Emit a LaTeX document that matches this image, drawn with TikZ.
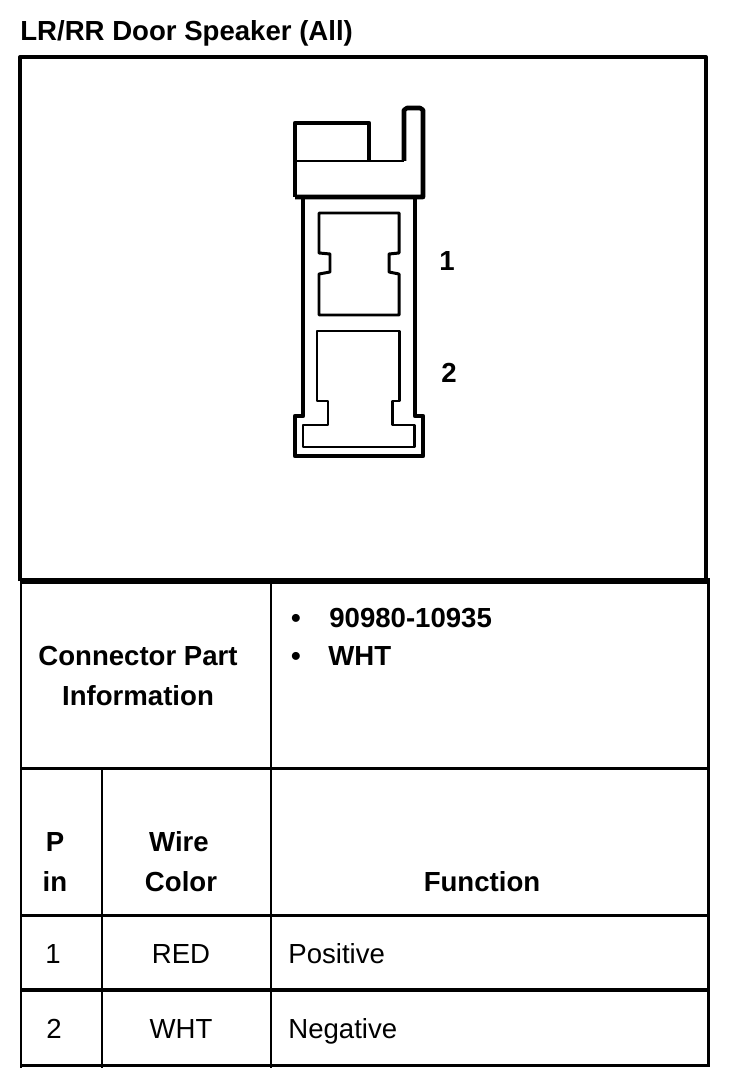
\documentclass[tikz,border=0pt]{standalone}
\usepackage{fontspec}
\setmainfont{Liberation Sans}

\tikzset{
    wide/.style={line width=3.4pt},
    heavy/.style={line width=2.6pt, line join=round},
    medium/.style={line width=2.3pt, line join=round},
    light/.style={line width=1.7pt, line join=round},
    boldtext/.style={inner sep=0pt, anchor=base, font=\fontsize{15.7pt}{18pt}\selectfont\bfseries},
    plaintext/.style={inner sep=0pt, anchor=base, font=\fontsize{15.7pt}{18pt}\selectfont}
}

\begin{document}
\begin{tikzpicture}[x=0.02cm, y=-0.02cm]
\useasboundingbox (0, 0) rectangle (736, 1084);
\fill[white] (0, 0) rectangle (736, 1084);

% outer frame
\draw[medium]
    (20, 581) -- (20, 57) -- (706, 57) -- (706, 581);
\draw[wide]
    (20, 581) -- (710, 581);

% table lines
\draw[light]
    (21, 581) -- (21, 1068);
\draw[light]
    (708, 581) -- (708, 1066);
\draw[light]
    (271, 581) -- (271, 1068);
\draw[light]
    (102, 768) -- (102, 1068);
\draw[light]
    (21, 768) -- (710, 768);
\draw[light]
    (21, 915) -- (710, 915);
\draw[medium]
    (21, 990) -- (710, 990);
\draw[light]
    (21, 1065) -- (710, 1065);

% connector body
\draw[heavy]
    (295, 197) -- (295, 123) -- (369, 123) -- (369, 161);
\draw[heavy]
    (404, 161) -- (404, 110) -- (407, 108) -- (420, 108) -- (423, 110)
    -- (423, 197) -- (295, 197);
\draw[light]
    (295, 161) -- (404, 161);
\draw[heavy]
    (303, 197) -- (303, 416) -- (295, 416) -- (295, 456) -- (423, 456)
    -- (423, 416) -- (415, 416) -- (415, 197);

% cavity 1
\draw[light]
    (319, 213) -- (399, 213) -- (399, 253) -- (389, 254) -- (389, 272)
    -- (399, 274) -- (399, 315) -- (319, 315) -- (319, 274) -- (330, 272)
    -- (330, 254) -- (319, 253) -- cycle;

% cavity 2
\draw[light]
    (317, 331) -- (399, 331) -- (399, 401) -- (392, 401) -- (392, 425)
    -- (414, 425) -- (414, 447) -- (303, 447) -- (303, 425) -- (328, 425)
    -- (328, 401) -- (317, 401) -- cycle;

\node[boldtext, anchor=base west] (title) at (20, 41) {LR/RR Door Speaker (All)};
\node[boldtext] (cavityone) at (447, 271) {1};
\node[boldtext] (cavitytwo) at (449, 382) {2};

\node[boldtext] (partone) at (138, 665) {Connector Part};
\node[boldtext] (parttwo) at (138, 705) {Information};
\node[boldtext] (bulletone) at (296, 627) {•};
\node[boldtext] (bullettwo) at (296, 665) {•};
\node[boldtext, anchor=base west] (partno) at (329, 627) {90980-10935};
\node[boldtext, anchor=base west] (partcolor) at (328, 665) {WHT};

\node[boldtext] (pinone) at (55, 851) {P};
\node[boldtext] (pintwo) at (55, 891) {in};
\node[boldtext] (wireone) at (179, 851) {Wire};
\node[boldtext] (wiretwo) at (181, 891) {Color};
\node[boldtext] (function) at (482, 891) {Function};

\node[plaintext] (rowonepin) at (53, 963) {1};
\node[plaintext] (rowonecolor) at (181, 963) {RED};
\node[plaintext, anchor=base west] (rowonefunc) at (288, 963) {Positive};
\node[plaintext] (rowtwopin) at (54, 1038) {2};
\node[plaintext] (rowtwocolor) at (181, 1038) {WHT};
\node[plaintext, anchor=base west] (rowtwofunc) at (288, 1038) {Negative};
\end{tikzpicture}
\end{document}
